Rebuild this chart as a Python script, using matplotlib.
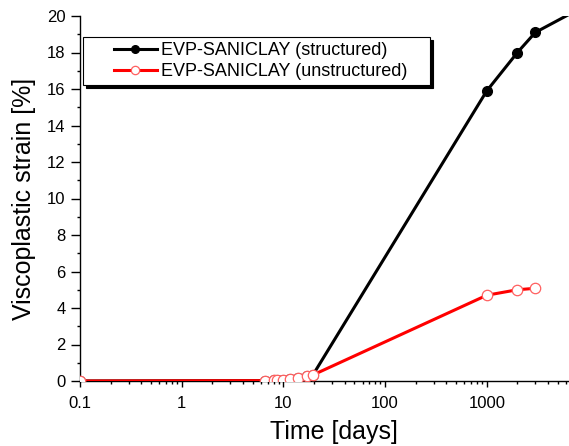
import matplotlib
matplotlib.use("Agg")
import matplotlib.pyplot as plt
from matplotlib.ticker import MultipleLocator, LogLocator, NullFormatter
from matplotlib.legend_handler import HandlerLine2D
from matplotlib.lines import Line2D

plt.rcParams['font.family'] = ['Liberation Sans', 'DejaVu Sans']

# Data
time_early = [0.1, 6.6, 8.0, 8.7, 10.0, 11.5, 14.0, 17.0, 19.5]
strain_early = [0.0, 0.02, 0.03, 0.05, 0.07, 0.10, 0.15, 0.25, 0.33]

time_structured = time_early + [1000, 2000, 3000, 6500]
strain_structured = strain_early + [15.9, 18.0, 19.1, 20.1]

time_unstructured = time_early + [1000, 2000, 3000]
strain_unstructured = strain_early + [4.7, 5.0, 5.08]

label_structured = "EVP-SANICLAY (structured)"
label_unstructured = "EVP-SANICLAY (unstructured)"

x_ticks = [0.1, 1, 10, 100, 1000]
x_ticklabels = ['0.1', '1', '10', '100', '1000']

fig = plt.figure(figsize=(5.69, 4.46), dpi=100)
W, H = 569, 446
left_px, bottom_px, top_px = 80, 381, 16
dec_px = 101.7
xmin, xmax = 0.1, 10000
right_px = left_px + dec_px * 5
ax = fig.add_axes([left_px / W, 1 - bottom_px / H, (right_px - left_px) / W, (bottom_px - top_px) / H])

# structured: line through all points, markers on measured points
ax.plot(time_structured, strain_structured, color='black', lw=2.2, zorder=2)
ax.plot(time_structured[:-1], strain_structured[:-1], ls='none',
        marker='o', markersize=7, markerfacecolor='black', markeredgecolor='black', zorder=2)
ax.plot(time_unstructured, strain_unstructured, color='#ff0000', lw=2.2,
        marker='o', markersize=7.5, markerfacecolor='white', markeredgecolor='#ff6060',
        markeredgewidth=0.9, zorder=3)

ax.set_xscale('log')
ax.set_xlim(xmin, xmax)
ax.set_ylim(0, 20)
ax.yaxis.set_major_locator(MultipleLocator(2))
ax.yaxis.set_minor_locator(MultipleLocator(1))
ax.xaxis.set_minor_locator(LogLocator(base=10, subs=range(2, 10), numticks=50))
ax.xaxis.set_minor_formatter(NullFormatter())
ax.set_xticks(x_ticks)
ax.set_xticklabels(x_ticklabels)

for s in ['top', 'right']:
    ax.spines[s].set_visible(False)
for s in ['left', 'bottom']:
    ax.spines[s].set_linewidth(1.0)

ax.tick_params(axis='x', which='major', direction='out', length=4.5, width=1, labelsize=12, pad=6)
ax.tick_params(axis='y', which='major', direction='out', length=6.5, width=1, labelsize=12, pad=4)
ax.tick_params(axis='both', which='minor', direction='out', length=2.3, width=1)

ax.set_xlabel('Time [days]', fontsize=18, labelpad=7)
ax.set_ylabel('Viscoplastic strain [%]', fontsize=18, labelpad=8)

h1 = Line2D([], [], color='black', lw=2.2, marker='o', markersize=5.5,
            markerfacecolor='black', markeredgecolor='black')
h2 = Line2D([], [], color='#ff0000', lw=2.2, marker='o', markersize=6,
            markerfacecolor='white', markeredgecolor='#ff6060', markeredgewidth=0.9)

axw = right_px - left_px
axh = bottom_px - top_px
x0 = (83 - left_px) / axw
w = (430 - 83) / axw
y_top = (bottom_px - 37) / axh
leg = ax.legend([h1, h2], [label_structured, label_unstructured],
                loc='upper left', bbox_to_anchor=(x0, y_top - 0.2, w, 0.2), mode='expand',
                fontsize=13, frameon=True, fancybox=False,
                shadow={'color': 'black', 'alpha': 1},
                handlelength=3.8, handletextpad=0.22, borderpad=0.3, labelspacing=0.2,
                borderaxespad=0,
                handler_map={Line2D: HandlerLine2D(xpad=1.4)})
leg.get_frame().set_edgecolor('black')
leg.get_frame().set_linewidth(0.8)

fig.savefig('out.png', dpi=100)
